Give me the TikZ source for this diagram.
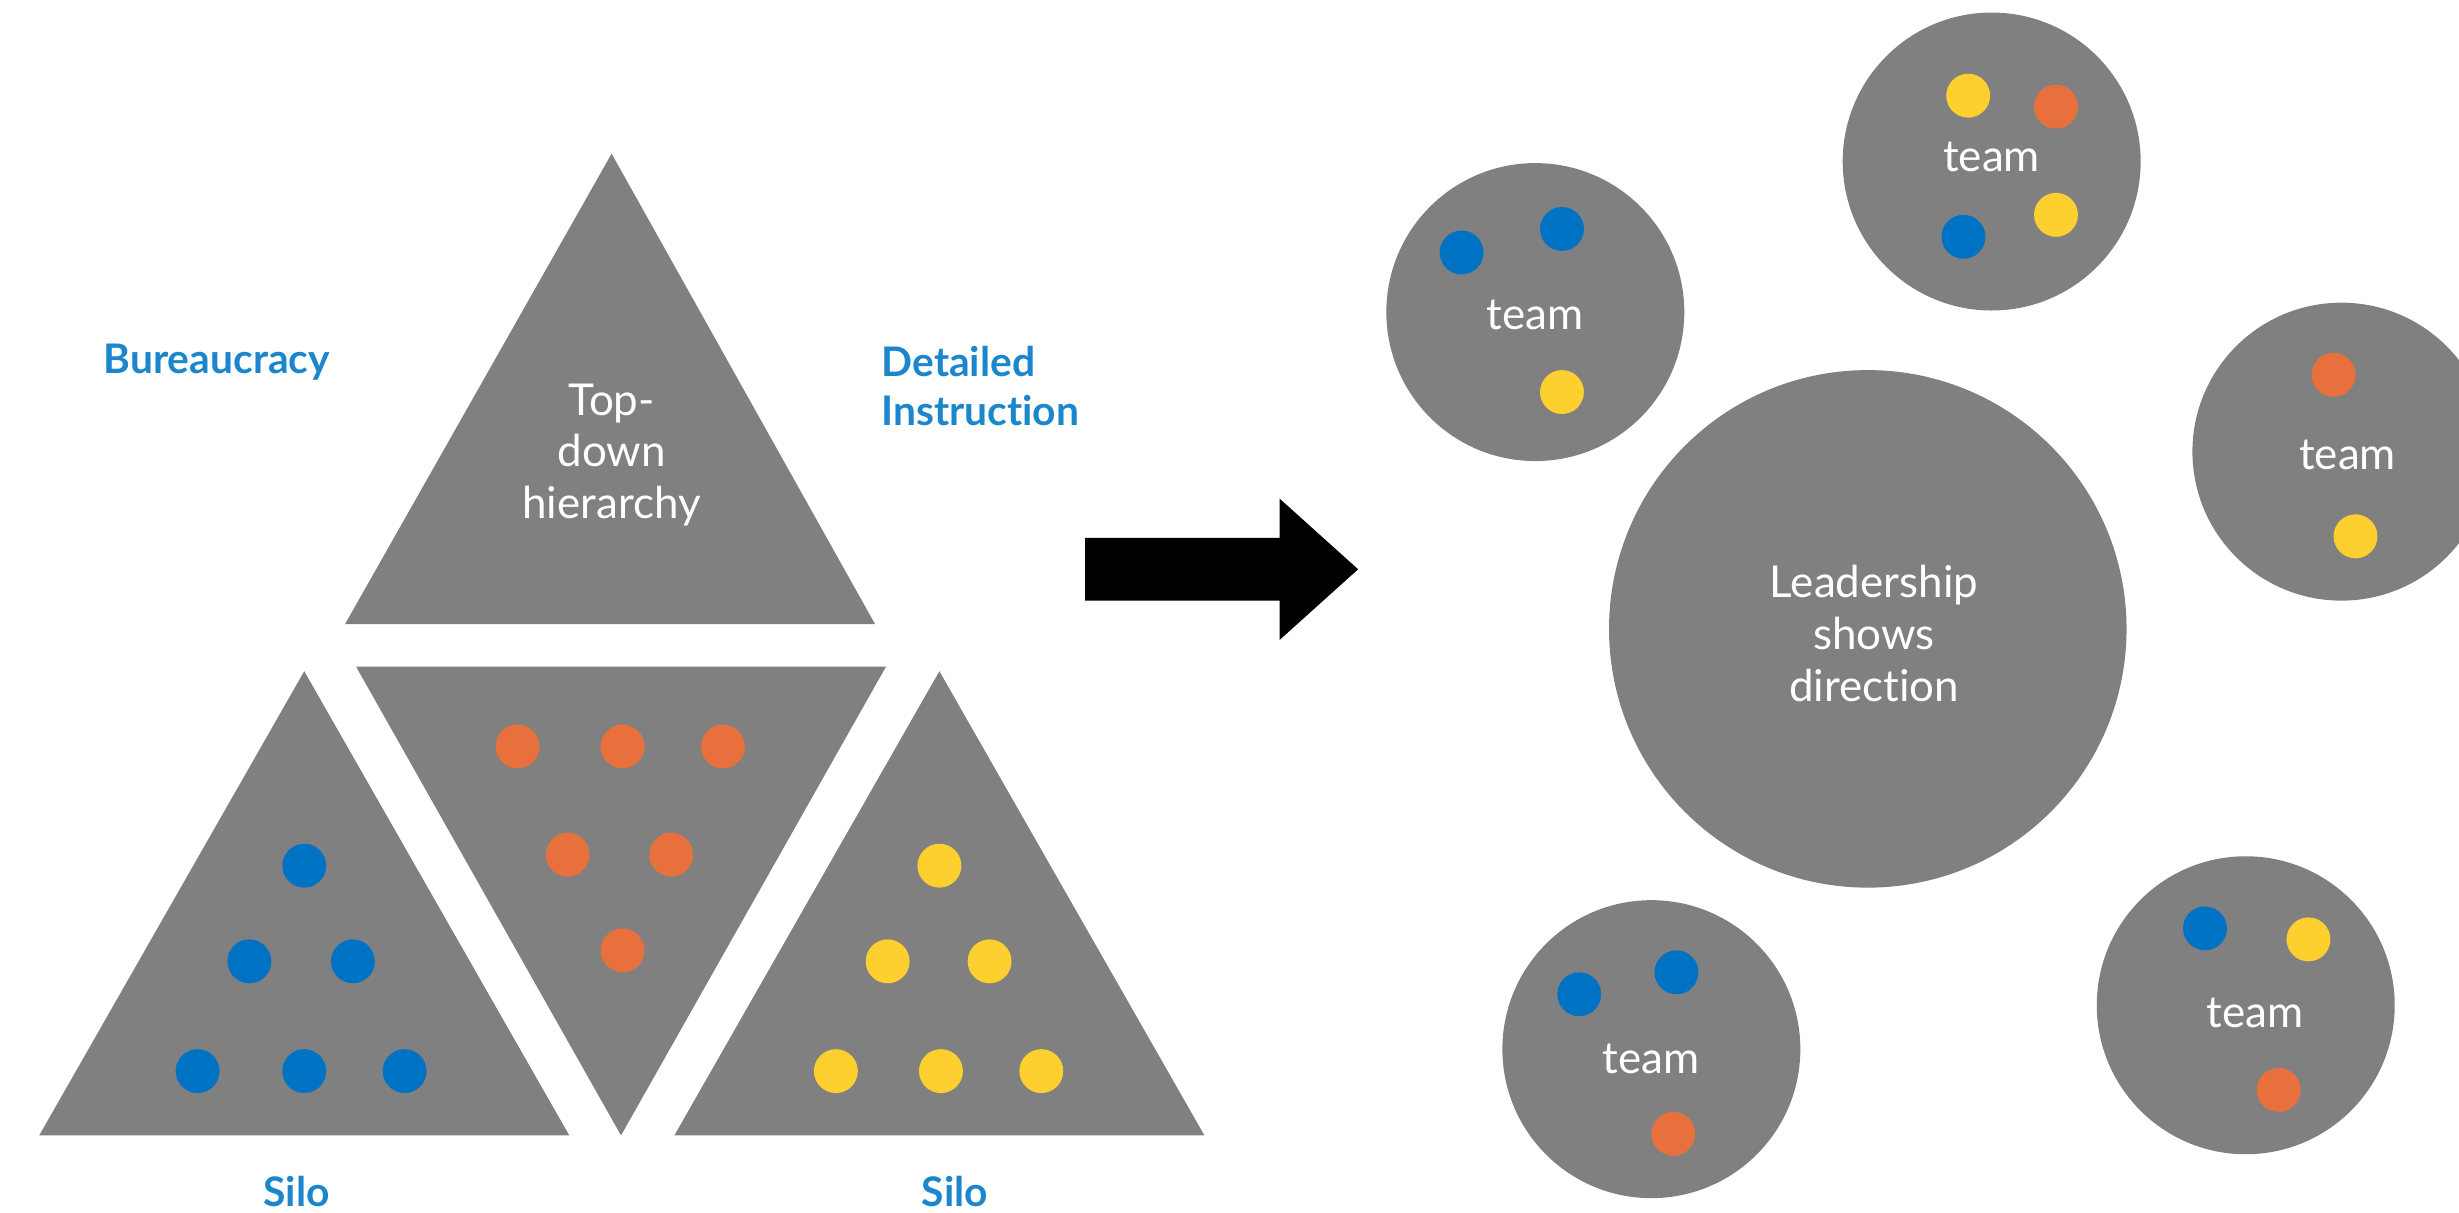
\documentclass[tikz,border=0pt]{standalone}
\usepackage{fontspec}
\setmainfont{Lato}[Ligatures=NoCommon]
\usepackage{tkz-euclide}

\definecolor{slab}{RGB}{128,128,128}
\definecolor{chipblue}{RGB}{0,114,196}
\definecolor{chiporange}{RGB}{232,112,60}
\definecolor{chipyellow}{RGB}{253,208,48}
\definecolor{tagblue}{RGB}{28,134,204}

\tikzset{
  tag/.style={text=tagblue, font=\bfseries\fontsize{26}{31}\selectfont, align=left, inner sep=0pt},
  whitetext/.style={text=white, font=\fontsize{28}{33}\selectfont, align=center, inner sep=0pt},
  blob/.style={fill=slab}
}

\begin{document}
\begin{tikzpicture}[x=1pt,y=-1pt]
  \useasboundingbox (0,0) rectangle (1568,773);

  % the pyramid
  \tkzDefPoints{390/98/T1, 220/398/T2, 558/398/T3}
  \tkzDefPoints{227/425/M1, 565/425/M2, 396/724/M3}
  \tkzDefPoints{194/428/L1, 25/724/L2, 363/724/L3}
  \tkzDefPoints{599/428/R1, 430/724/R2, 768/724/R3}

  \tkzFillPolygon[color=slab](T1,T2,T3)
  \tkzFillPolygon[color=slab](M1,M2,M3)
  \tkzFillPolygon[color=slab](L1,L2,L3)
  \tkzFillPolygon[color=slab](R1,R2,R3)

  \node[whitetext] (top) at (390,290) {Top-\\down\\hierarchy};

  \foreach \x/\y in {330/476, 397/476, 461/476, 362/545, 428/545, 397/606}
    \fill[chiporange] (\x,\y) circle (14);
  \foreach \x/\y in {194/552, 159/613, 225/613, 126/683, 194/683, 258/683}
    \fill[chipblue] (\x,\y) circle (14);
  \foreach \x/\y in {599/552, 566/613, 631/613, 533/683, 600/683, 664/683}
    \fill[chipyellow] (\x,\y) circle (14);

  \node[tag, anchor=west] (bureau) at (66,231) {Bureaucracy};
  \node[tag, anchor=west] (detail) at (562,246) {Detailed\\Instruction};
  \node[tag] (siloL) at (189,760) {Silo};
  \node[tag] (siloR) at (609,760) {Silo};

  % the block arrow
  \tkzDefPoints{692/343/A1, 816/343/A2, 816/318/A3, 866/363/A4,
    816/408/A5, 816/383/A6, 692/383/A7}
  \tkzFillPolygon[color=black](A1,A2,A3,A4,A5,A6,A7)

  % the teams
  \tkzDefPoints{1191/401/O, 979/199/P, 1270/103/Q, 1493/288/S,
    1053/669/U, 1432/641/V}
  \fill[blob] (O) circle (165);
  \foreach \c in {P,Q,S,U,V}
    \fill[blob] (\c) circle (95);

  \node[whitetext] (lead) at (1195,404) {Leadership\\shows\\direction};
  \node[whitetext] (teamP) at (979,201) {team};
  \node[whitetext] (teamQ) at (1270,100) {team};
  \node[whitetext] (teamS) at (1497,290) {team};
  \node[whitetext] (teamU) at (1053,675) {team};
  \node[whitetext] (teamV) at (1438,646) {team};

  \foreach \x/\y in {932/161, 996/146, 1252/151, 1007/634, 1069/620, 1406/592}
    \fill[chipblue] (\x,\y) circle (14);
  \foreach \x/\y in {996/250, 1255/61, 1311/137, 1502/342, 1472/599}
    \fill[chipyellow] (\x,\y) circle (14);
  \foreach \x/\y in {1311/68, 1488/239, 1067/723, 1453/695}
    \fill[chiporange] (\x,\y) circle (14);
\end{tikzpicture}
\end{document}
